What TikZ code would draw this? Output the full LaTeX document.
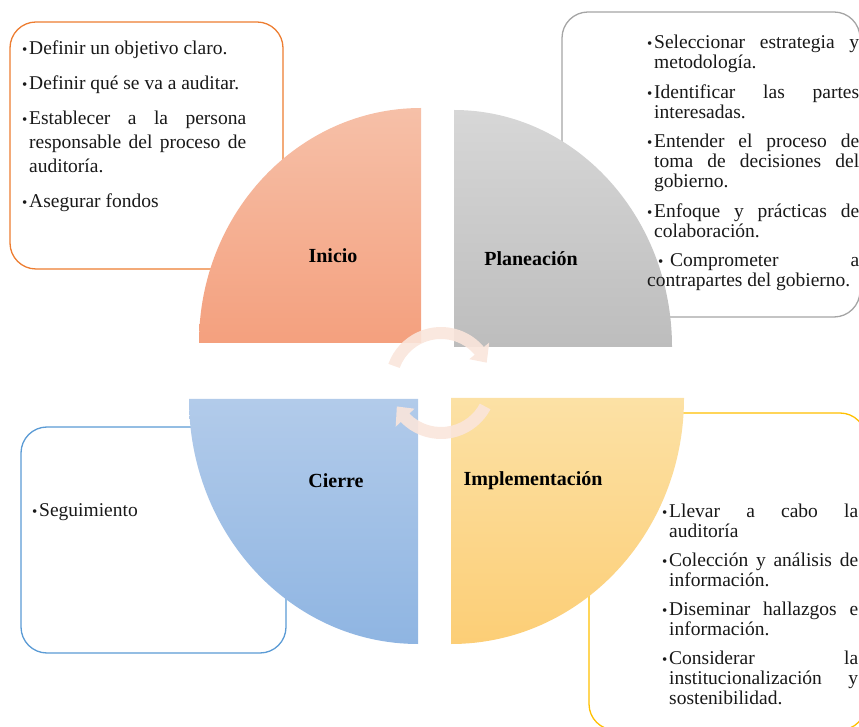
\documentclass[tikz,border=0pt]{standalone}
\usepackage{fontspec}
\setmainfont{Liberation Serif}

\definecolor{inicioA}{RGB}{246,192,168}
\definecolor{inicioB}{RGB}{244,160,126}
\definecolor{inicioL}{RGB}{237,125,49}
\definecolor{planA}{RGB}{215,215,215}
\definecolor{planB}{RGB}{189,189,189}
\definecolor{planL}{RGB}{165,165,165}
\definecolor{implA}{RGB}{252,225,165}
\definecolor{implB}{RGB}{252,206,118}
\definecolor{implL}{RGB}{255,192,0}
\definecolor{cierreA}{RGB}{178,203,234}
\definecolor{cierreB}{RGB}{143,181,226}
\definecolor{cierreL}{RGB}{91,155,213}
\definecolor{flechaC}{RGB}{250,229,219}

\newcommand{\vineta}{\raisebox{0pt}{\fontsize{15}{15}\selectfont\textbullet}}
\newcommand{\punto}[1]{\par\noindent\hangindent=7pt\hangafter=1%
	\hbox to 7pt{\vineta\hss}#1\par}

\begin{document}
\begin{tikzpicture}[x=1pt,y=1pt]
	\useasboundingbox (0,0) rectangle (859,726);
	\tikzset{caja/.style = {draw = #1, line width = 1.3pt, fill = white,
			rounded corners = 26pt, inner sep = 0pt},
		lista/.style = {anchor = north west, inner sep = 0pt, align = justify,
			text width = #1, text = black!90,
			font = \fontsize{19.5}{20}\selectfont},
		etiqueta/.style = {font = \fontsize{20}{22}\selectfont\bfseries},
		flecha/.style = {fill = flechaC, fill opacity = 0.9}}
	% cajas de texto
	\node[caja=inicioL, minimum width=273pt, minimum height=247pt] (cajaInicio) at (146.5,580.5) {};
	\node[caja=planL, minimum width=298pt, minimum height=305pt] (cajaPlan) at (711,561.5) {};
	\node[caja=implL, minimum width=277pt, minimum height=317pt] (cajaImpl) at (727.5,154.5) {};
	\node[caja=cierreL, minimum width=265pt, minimum height=226pt] (cajaCierre) at (153.5,186) {};
	% cuadrantes
	\shade[top color=inicioA, bottom color=inicioB] (421,383) -- (199,383)
		arc[start angle=180, end angle=90, x radius=222, y radius=235] -- cycle;
	\shade[top color=planA, bottom color=planB] (454,379) -- (672,379)
		arc[start angle=0, end angle=90, x radius=218, y radius=237] -- cycle;
	\shade[top color=implA, bottom color=implB] (451,328) -- (684,328)
		arc[start angle=0, end angle=-90, x radius=233, y radius=246] -- cycle;
	\shade[top color=cierreA, bottom color=cierreB] (418,327) -- (189,327)
		arc[start angle=180, end angle=270, x radius=229, y radius=245] -- cycle;
	% flechas circulares
	\fill[flecha, shift={(441,343)}] (160:56) arc[start angle=160, end angle=40, radius=56]
		-- (40:63) -- (24:50) -- (40:37) -- (40:44)
		arc[start angle=40, end angle=160, radius=44] -- cycle;
	\fill[flecha, shift={(441,343)}] (332:56) arc[start angle=332, end angle=224, radius=56]
		-- (224:63) -- (208:50) -- (224:37) -- (224:44)
		arc[start angle=224, end angle=332, radius=44] -- cycle;
	% etiquetas
	\node[etiqueta] (inicio) at (333,470) {Inicio};
	\node[etiqueta] (planeacion) at (531,467) {Planeación};
	\node[etiqueta] (implementacion) at (533,245) {Implementación};
	\node[etiqueta] (cierre) at (336,245) {Cierre};
	% textos
	\node[lista=224pt, font=\fontsize{19.5}{24}\selectfont] (textoInicio) at (22,707) {\setlength{\parskip}{11pt}%
		\punto{Definir un objetivo claro.}
		\punto{Definir qué se va a auditar.}
		\punto{Establecer a la persona\linebreak responsable del proceso de\linebreak auditoría.}
		\punto{Asegurar fondos}};
	\node[lista=212pt] (textoPlan) at (647,707) {\setlength{\parskip}{9.5pt}%
		\punto{Seleccionar estrategia y\linebreak metodología.}
		\punto{Identificar las partes\linebreak interesadas.}
		\punto{Entender el proceso de\linebreak toma de decisiones del\linebreak gobierno.}
		\punto{Enfoque y prácticas de\linebreak colaboración.}
		\noindent\hspace*{11pt}\hbox to 12pt{\vineta\hss}Comprometer a\linebreak contrapartes del gobierno.\par};
	\node[lista=196pt] (textoImpl) at (662,238) {\setlength{\parskip}{9pt}%
		\punto{Llevar a cabo la\linebreak auditoría}
		\punto{Colección y análisis de\linebreak información.}
		\punto{Diseminar hallazgos e\linebreak información.}
		\punto{Considerar la\linebreak institucionalización y\linebreak sostenibilidad.}};
	\node[lista=200pt] (textoCierre) at (32,230) {\punto{Seguimiento}};
\end{tikzpicture}
\end{document}
